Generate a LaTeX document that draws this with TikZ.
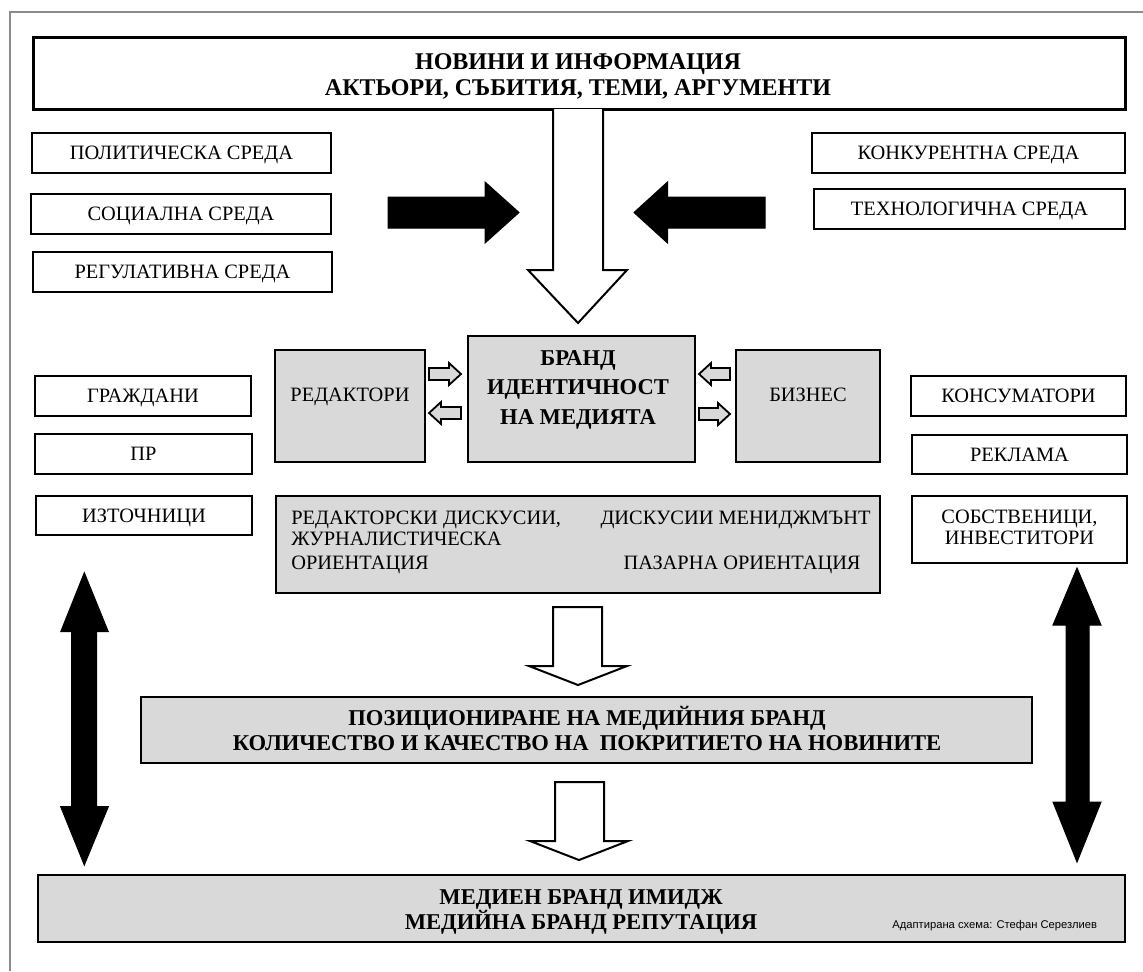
\documentclass[tikz,border=0pt]{standalone}
\usepackage{fontspec}
\setmainfont{Liberation Serif}
\newfontfamily\credfont{Liberation Sans}
\definecolor{boxgray}{HTML}{D9D9D9}
\definecolor{framegray}{HTML}{8C8C8C}
\tikzset{
  wbox/.style={draw=black, line width=1.3pt, fill=white, inner sep=0pt},
  gbox/.style={draw=black, line width=1.3pt, fill=boxgray, inner sep=0pt},
  lab/.style={font=\fontsize{10.2}{12}\selectfont, inner sep=0pt, text height=6.7pt, text depth=0pt},
  blab/.style={font=\fontsize{12}{14}\selectfont\bfseries, inner sep=0pt, text height=7.9pt, text depth=0pt},
  mlab/.style={font=\fontsize{11.3}{13}\selectfont\bfseries, inner sep=0pt, text height=7.4pt, text depth=0pt},
  credit/.style={font=\credfont\fontsize{5.6}{7}\selectfont, inner sep=0pt, text height=4pt, text depth=0pt, anchor=west},
  blockarrow/.style={fill=black, draw=black, line width=0.5pt, line join=miter},
  hollowarrow/.style={fill=white, draw=black, line width=1pt, line join=miter},
  smallarrow/.style={fill=boxgray, draw=black, line width=0.9pt, line join=miter},
}
\newcommand\mybox[7]{\node[#6, minimum width={(#4-#2)*0.5pt}, minimum height={(#5-#3)*0.5pt}] (#1) at ({(#2+#4)/2},{(#3+#5)/2}) {#7};}
\begin{document}
\begin{tikzpicture}[x=0.5pt, y=-0.5pt]
\useasboundingbox (0,0) rectangle (1143,971);
\fill[white] (0,0) rectangle (1143,971);
\draw[framegray, line width=0.8pt] (10,971) -- (10,12) -- (1143,12);

% top box
\mybox{top}{33}{37}{1125}{109}{wbox, line width=1.5pt}{}
\node[blab] (topA) at (578,62) {НОВИНИ И ИНФОРМАЦИЯ};
\node[blab] (topB) at (578,88) {АКТЬОРИ, СЪБИТИЯ, ТЕМИ, АРГУМЕНТИ};

% environment boxes
\mybox{pol}{32}{133}{331}{173}{wbox, lab}{ПОЛИТИЧЕСКА СРЕДА}
\mybox{soc}{31}{194}{331}{234}{wbox, lab}{СОЦИАЛНА СРЕДА}
\mybox{reg}{33}{252}{332}{292}{wbox, lab}{РЕГУЛАТИВНА СРЕДА}
\mybox{konk}{812}{133}{1125}{173}{wbox, lab}{КОНКУРЕНТНА СРЕДА}
\mybox{tech}{814}{189}{1125}{229}{wbox, lab}{ТЕХНОЛОГИЧНА СРЕДА}

% stakeholder boxes
\mybox{grazh}{35}{376}{251}{416}{wbox, lab}{ГРАЖДАНИ}
\mybox{pr}{35}{434}{252}{474}{wbox, lab}{ПР}
\mybox{izt}{36}{496}{252}{535}{wbox, lab}{ИЗТОЧНИЦИ}
\mybox{kons}{911}{376}{1126}{416}{wbox, lab}{КОНСУМАТОРИ}
\mybox{rekl}{912}{435}{1127}{474}{wbox, lab}{РЕКЛАМА}
\mybox{sobst}{912}{496}{1127}{563}{wbox}{}
\node[lab] (sobA) at (1019.5,517) {СОБСТВЕНИЦИ,};
\node[lab] (sobB) at (1019.5,538) {ИНВЕСТИТОРИ};

% central gray boxes
\mybox{red}{275}{350}{425}{462}{gbox}{}
\node[lab] (redL) at (350,395) {РЕДАКТОРИ};
\mybox{brand}{468}{336}{695}{462}{gbox}{}
\node[mlab] (brA) at (578,358) {БРАНД};
\node[mlab] (brB) at (578,387) {ИДЕНТИЧНОСТ};
\node[mlab] (brC) at (578,417) {НА МЕДИЯТА};
\mybox{biz}{736}{350}{880}{462}{gbox}{}
\node[lab] (bizL) at (808,395) {БИЗНЕС};

\mybox{disc}{276}{496}{880}{593}{gbox}{}
\node[lab, anchor=west] (dA) at (291,518) {РЕДАКТОРСКИ ДИСКУСИИ,};
\node[lab, anchor=west] (dB) at (291,539) {ЖУРНАЛИСТИЧЕСКА};
\node[lab, anchor=west] (dC) at (291,563) {ОРИЕНТАЦИЯ};
\node[lab, anchor=east] (dD) at (871,518) {ДИСКУСИИ МЕНИДЖМЪНТ};
\node[lab, anchor=east] (dE) at (861,563) {ПАЗАРНА ОРИЕНТАЦИЯ};

\mybox{pos}{141}{697}{1032}{763}{gbox}{}
\node[mlab] (posA) at (587,718) {ПОЗИЦИОНИРАНЕ НА МЕДИЙНИЯ БРАНД};
\node[mlab] (posB) at (587,743) {КОЛИЧЕСТВО И КАЧЕСТВО НА\ \ ПОКРИТИЕТО НА НОВИНИТЕ};

\mybox{img}{38}{875}{1125}{942}{gbox}{}
\node[mlab] (imA) at (581,897) {МЕДИЕН БРАНД ИМИДЖ};
\node[mlab] (imB) at (581,922) {МЕДИЙНА БРАНД РЕПУТАЦИЯ};
\node[credit] (cred) at (892,924) {Адаптирана схема: Стефан Серезлиев};

% black horizontal arrows
\draw[blockarrow] (388,197) -- (485,197) -- (485,182) -- (519,212.5) -- (485,243) -- (485,228) -- (388,228) -- cycle;
\draw[blockarrow] (765,197) -- (667.5,197) -- (667.5,182) -- (634,212.5) -- (667.5,243) -- (667.5,228) -- (765,228) -- cycle;

% hollow down arrows
\filldraw[hollowarrow] (553,109) -- (553,270) -- (528,270) -- (578,323) -- (627,270) -- (603,270) -- (603,109);
\filldraw[hollowarrow] (553,607) -- (553,666) -- (529,666) -- (578,685) -- (627,666) -- (602,666) -- (602,607) -- cycle;
\filldraw[hollowarrow] (555,782) -- (555,841) -- (530,841) -- (579,860) -- (628,841) -- (604,841) -- (604,782) -- cycle;

% vertical double arrows
\draw[blockarrow] (84.3,572.7) -- (108.3,631.7) -- (96.7,631.7) -- (96.7,806.7) -- (108.3,806.7) -- (84.3,865) -- (60.7,806.7) -- (71.7,806.7) -- (71.7,631.7) -- (60.7,631.7) -- cycle;
\draw[blockarrow] (1077,568) -- (1101,625) -- (1089,625) -- (1089,802) -- (1101,802) -- (1077,862) -- (1053,802) -- (1066,802) -- (1066,625) -- (1053,625) -- cycle;

% small arrows
\filldraw[smallarrow] (429,368) -- (449,368) -- (449,363) -- (461,374) -- (449,385) -- (449,380) -- (429,380) -- cycle;
\filldraw[smallarrow] (461,407) -- (441,407) -- (441,402) -- (429,413) -- (441,424) -- (441,419) -- (461,419) -- cycle;
\filldraw[smallarrow] (730,368) -- (711,368) -- (711,363) -- (699,374) -- (711,385) -- (711,380) -- (730,380) -- cycle;
\filldraw[smallarrow] (699,408) -- (718,408) -- (718,403) -- (730,414) -- (718,425) -- (718,420) -- (699,420) -- cycle;
\end{tikzpicture}
\end{document}
